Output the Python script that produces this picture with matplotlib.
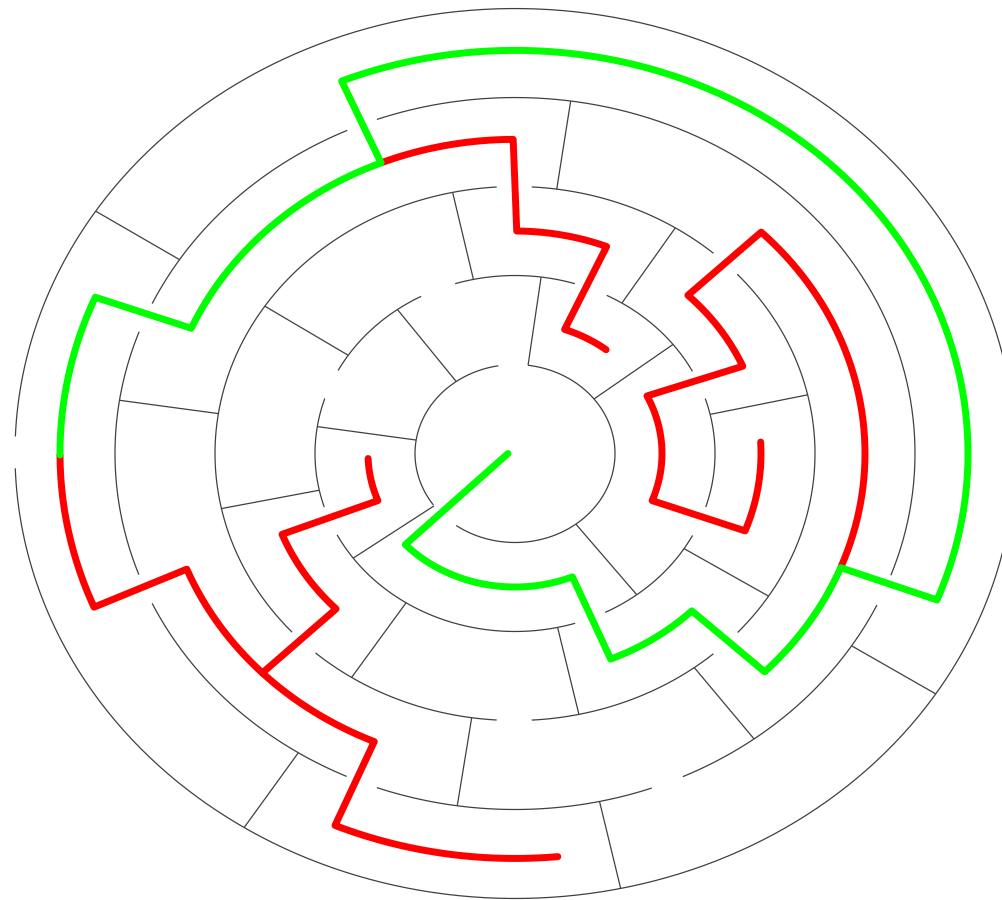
import numpy as np
import matplotlib
matplotlib.use("Agg")
import matplotlib.pyplot as plt

# --- maze walls (angles in degrees, radii in ring units) ---
# circle arcs that are drawn, per ring radius (start, end)
arcs_r1 = [(99.6, 215.3), (234.0, 442.5)]
arcs_r2 = [(27.5, 62.7), (72.6, 107.4), (118.0, 152.2), (162.0, 197.5),
           (207.2, 287.5), (296.8, 332.6), (342.5, 378.0)]
arcs_r3 = [(48.6, 86.8), (93.5, 222.0), (228.3, 266.5), (273.2, 311.4),
           (317.9, 402.2)]
arcs_r4 = [(114.8, 155.1), (160.0, 199.9), (204.9, 245.1), (249.8, 290.0),
           (294.8, 334.8), (340.0, 470.2)]
arcs_r5 = [(181.9, 537.8)]

# radial walls per band (angle of wall)
walls_b12 = [37.8, 82.5, 126.0, 171.3, 216.0, 307.5]
walls_b23 = [12.7, 57.7, 102.0, 146.5, 191.9, 237.0, 282.3, 327.7]
walls_b34 = [82.0, 171.4, 261.7, 306.7]
walls_b45 = [147.0, 237.2, 282.2, 327.3]

# --- solution (green) and dead-end (red) paths: (r, angle) vertices ---
green_path = [(0.07, 180.0), (1.5, 223.0), (1.5, 292.5), (2.5, 292.5),
              (2.5, 315.0), (3.5, 315.5), (3.5, 338.5), (4.53, 338.7),
              (4.53, 472.5), (3.53, 472.3), (3.53, 516.5), (4.55, 517.3),
              (4.55, 540.2)]
red_left = [(4.55, 180.2), (4.55, 202.3), (3.53, 201.6), (3.53, 224.3),
            (2.5, 224.3), (2.5, 201.3), (1.47, 201.1), (1.47, 182.2)]
red_low = [(3.53, 224.3), (3.53, 246.5), (4.55, 246.7), (4.55, 275.4)]
red_top = [(3.53, 112.3), (3.53, 90.3), (2.5, 89.6), (2.5, 68.5),
           (1.48, 70.4), (1.48, 52.0)]
red_right = [(3.5, -21.2), (3.5, 45.3), (2.48, 45.8), (2.48, 23.3),
             (1.47, 26.1), (1.47, -21.1), (2.46, -20.7), (2.46, 3.0)]


def arc_xy(r, a0, a1):
    t = np.radians(np.linspace(a0, a1, max(int(abs(a1 - a0) * 2), 8)))
    return r * np.cos(t), r * np.sin(t)


def path_xy(verts):
    xs, ys = [], []
    for (r0, a0), (r1, a1) in zip(verts[:-1], verts[1:]):
        if abs(r1 - r0) < 1e-9:
            x, y = arc_xy(r0, a0, a1)
        else:
            x = np.array([r0 * np.cos(np.radians(a0)), r1 * np.cos(np.radians(a1))])
            y = np.array([r0 * np.sin(np.radians(a0)), r1 * np.sin(np.radians(a1))])
        xs.extend(x); ys.extend(y)
    return xs, ys


fig = plt.figure(figsize=(10.03, 9.0), dpi=100)
ax = fig.add_axes([0, 0, 1, 1])
ax.set_xlim(-5.15, 4.88)
ax.set_ylim(-5.017, 5.096)
ax.axis("off")

wall_kw = dict(color="#404040", lw=0.9, solid_capstyle="butt")
for r, arcs in zip([1, 2, 3, 4, 5], [arcs_r1, arcs_r2, arcs_r3, arcs_r4, arcs_r5]):
    for a0, a1 in arcs:
        x, y = arc_xy(r, a0, a1)
        ax.plot(x, y, **wall_kw)

for (ri, ro), walls in zip([(1, 2), (2, 3), (3, 4), (4, 5)],
                           [walls_b12, walls_b23, walls_b34, walls_b45]):
    for a in walls:
        t = np.radians(a)
        ax.plot([ri * np.cos(t), ro * np.cos(t)], [ri * np.sin(t), ro * np.sin(t)], **wall_kw)

path_kw = dict(lw=5.0, solid_capstyle="round", solid_joinstyle="round", zorder=3)
for verts in [red_left, red_low, red_top, red_right]:
    x, y = path_xy(verts)
    ax.plot(x, y, color="#ff0000", **path_kw)
x, y = path_xy(green_path)
ax.plot(x, y, color="#00ff00", **path_kw)

fig.savefig("out.png", dpi=100, facecolor="white")
